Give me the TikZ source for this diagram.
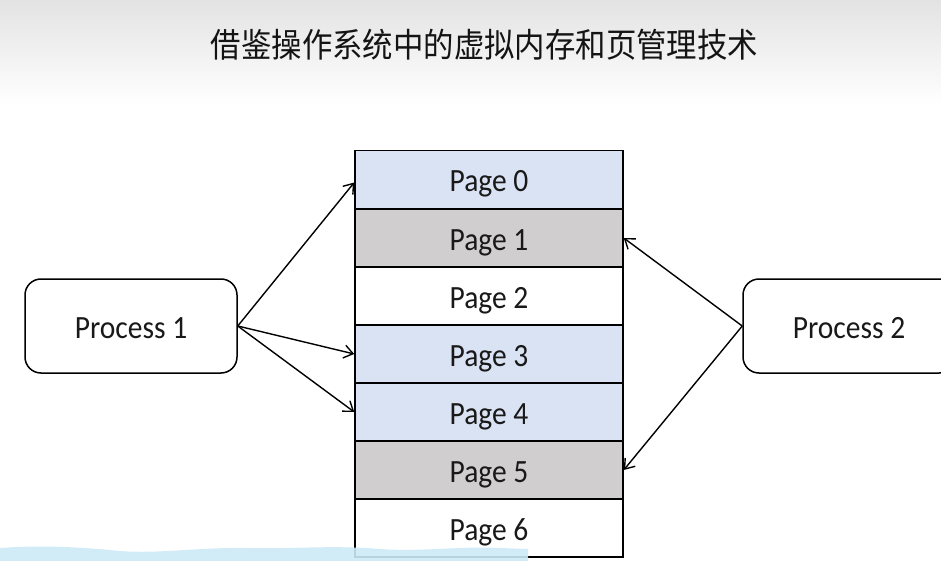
\documentclass[tikz,border=0pt]{standalone}
\usepackage{fontspec}
\setmainfont{Carlito}
\newfontfamily\cjk{Noto Sans CJK SC}
\usetikzlibrary{arrows.meta}
\definecolor{pblue}{HTML}{DAE3F3}
\definecolor{pgray}{HTML}{D0CECE}
\definecolor{wave}{HTML}{CDEBF7}
\newcommand{\tallt}[1]{\scalebox{1}[1.1]{#1}}
\begin{document}
\begin{tikzpicture}[x=1pt,y=-1pt,
  pagebox/.style={draw=black,line width=1.5pt,minimum width=268pt,minimum height=58pt,inner sep=0pt,text height=26pt,text depth=1pt,font=\fontsize{29.5}{34}\selectfont,text=black!90},
  procbox/.style={draw=black,line width=1.5pt,rounded corners=16pt,fill=white,minimum width=212pt,minimum height=94pt,inner sep=0pt,text height=25pt,text depth=1pt,font=\fontsize{29.5}{34}\selectfont,text=black!90},
  arr/.style={line width=1.4pt,-{Straight Barb[length=9pt,width=13pt]}}]
\useasboundingbox (0,0) rectangle (941,561);
\clip (0,0) rectangle (941,561);
\fill[white] (0,0) rectangle (941,561);
\shade[top color=black!11,bottom color=white] (0,0) rectangle (941,105);
\node[font=\cjk\fontsize{32}{36}\selectfont,text=black!92,xscale=0.95,yscale=1.05] (title) at (484.5,45) {借鉴操作系统中的虚拟内存和页管理技术};
\node[pagebox,fill=pblue] (p0) at (489,179.5) {\tallt{Page 0}};
\node[pagebox,fill=pgray] (p1) at (489,238) {\tallt{Page 1}};
\node[pagebox,fill=white] (p2) at (489,296) {\tallt{Page 2}};
\node[pagebox,fill=pblue] (p3) at (489,354) {\tallt{Page 3}};
\node[pagebox,fill=pblue] (p4) at (489,412) {\tallt{Page 4}};
\node[pagebox,fill=pgray] (p5) at (489,470) {\tallt{Page 5}};
\node[pagebox,fill=white] (p6) at (489,528) {\tallt{Page 6}};
\node[procbox] (pr1) at (131,326) {\tallt{Process 1}};
\node[procbox] (pr2) at (849,326) {\tallt{Process 2}};
\draw[arr] (pr1.east) -- ([yshift=-3pt]p0.west);
\draw[arr] (pr1.east) -- (p3.west);
\draw[arr] (pr1.east) -- (p4.west);
\draw[arr] (pr2.west) -- (p1.east);
\draw[arr] (pr2.west) -- (p5.east);
\fill[wave,opacity=0.9] (0,561) -- (0,548) .. controls (40,545) and (80,547) .. (120,551)
  .. controls (160,554) and (200,547) .. (250,548)
  .. controls (300,549) and (330,545) .. (380,549)
  .. controls (420,552) and (460,546) .. (500,548)
  -- (528,549) -- (528,561) -- cycle;
\end{tikzpicture}
\end{document}
